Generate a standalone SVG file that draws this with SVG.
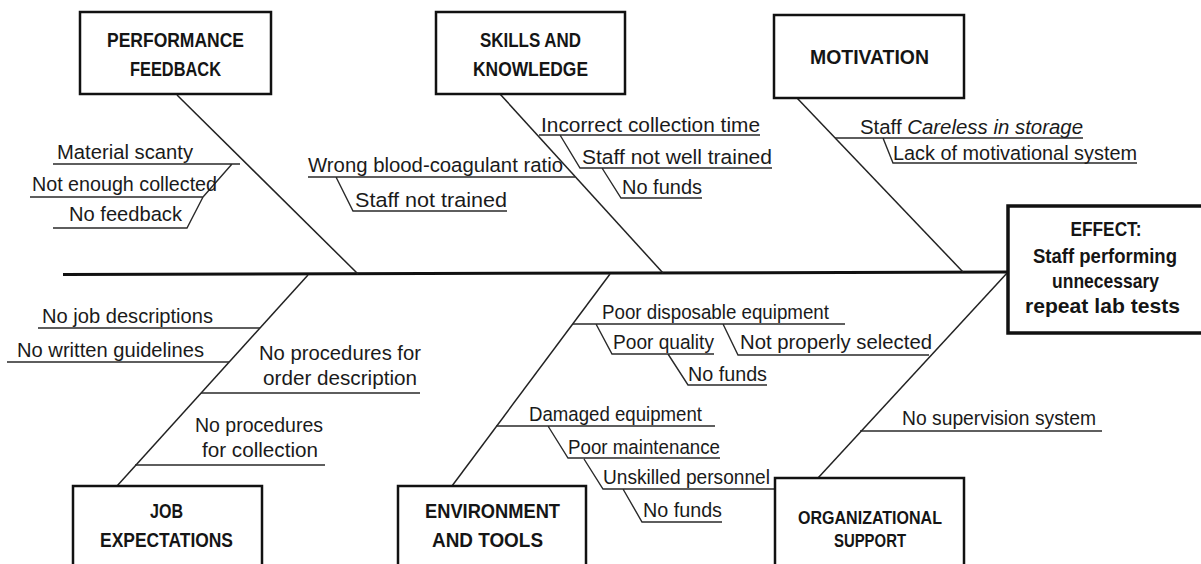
<svg xmlns="http://www.w3.org/2000/svg" width="1201" height="564" viewBox="0 0 1201 564">
<style>
.bg{fill:#ffffff}
.box{fill:#ffffff;stroke:#111111;stroke-width:2.5}
.effbox{fill:#ffffff;stroke:#111111;stroke-width:3.5}
.lbl{font-family:"Liberation Sans",Arial,sans-serif;font-weight:bold;font-size:21px;fill:#151515;text-anchor:middle}
.c{font-family:"Liberation Sans",Arial,sans-serif;font-size:20.5px;fill:#1a1a1a}
.spine{stroke:#111111;stroke-width:3;fill:none}
.bone{stroke:#222222;stroke-width:1.5;fill:none}
.ul{stroke:#2a2a2a;stroke-width:1.4;fill:none}
</style>
<rect class="bg" x="0" y="0" width="1201" height="564"/>

<g id="connectors">
  <line class="spine" x1="63" y1="274.5" x2="1008" y2="272"/>
  <line class="bone" x1="177" y1="95" x2="358" y2="274"/>
  <line class="bone" x1="500" y1="94" x2="663" y2="273"/>
  <line class="bone" x1="797" y1="98" x2="963" y2="272"/>
  <line class="bone" x1="117" y1="486" x2="308" y2="275"/>
  <line class="bone" x1="452" y1="486" x2="610" y2="274"/>
  <line class="bone" x1="818" y1="478" x2="1008" y2="272"/>
  <g id="cause-lines">
    <path class="ul" d="M53,164 H240 M30,197 H203 L232,164 M53,228 H187 L203,197"/>
    <path class="ul" d="M308,177 H575 M336,177 L353,211 H507 M539,135 H760 M560,135 L580,168 H772 M602,168 L621,198 H702"/>
    <path class="ul" d="M835,138 H1083 M883,138 L893,163 H1137"/>
    <path class="ul" d="M38,328 H260 M7,362 H229 M201,393 H420 M135,465 H325"/>
    <path class="ul" d="M573,324 H845 M596,324 L612,354 H714 M723,324 L738,355 H929 M668,354 L688,385 H767 M496,426 H715 M548,426 L568,458 H720 M584,459 L603,489 H775 M623,489 L642,522 H722"/>
    <path class="ul" d="M860,431 H1102"/>
  </g>
</g>

<g id="node-performance-feedback">
  <rect class="box" x="80" y="12" width="191" height="82"/>
  <text class="lbl" x="175.5" y="47" textLength="137" lengthAdjust="spacingAndGlyphs">PERFORMANCE</text>
  <text class="lbl" x="175.5" y="76" textLength="91" lengthAdjust="spacingAndGlyphs">FEEDBACK</text>
</g>
<g id="node-skills-knowledge">
  <rect class="box" x="436" y="12" width="189" height="82"/>
  <text class="lbl" x="530.5" y="47" textLength="101" lengthAdjust="spacingAndGlyphs">SKILLS AND</text>
  <text class="lbl" x="530.5" y="76" textLength="115" lengthAdjust="spacingAndGlyphs">KNOWLEDGE</text>
</g>
<g id="node-motivation">
  <rect class="box" x="774" y="15" width="190" height="83"/>
  <text class="lbl" x="869.5" y="64" textLength="119" lengthAdjust="spacingAndGlyphs">MOTIVATION</text>
</g>
<g id="node-effect">
  <rect class="effbox" x="1008" y="206" width="200" height="127"/>
  <text class="lbl" x="1106" y="236" textLength="71" lengthAdjust="spacingAndGlyphs">EFFECT:</text>
  <text class="lbl" x="1105" y="263" textLength="144" lengthAdjust="spacingAndGlyphs">Staff performing</text>
  <text class="lbl" x="1105.5" y="288" textLength="107" lengthAdjust="spacingAndGlyphs">unnecessary</text>
  <text class="lbl" x="1102.5" y="313" textLength="155" lengthAdjust="spacingAndGlyphs">repeat lab tests</text>
</g>
<g id="node-job-expectations">
  <rect class="box" x="73" y="486" width="189" height="95"/>
  <text class="lbl" x="166.5" y="518" textLength="33" lengthAdjust="spacingAndGlyphs">JOB</text>
  <text class="lbl" x="166.5" y="547" textLength="133" lengthAdjust="spacingAndGlyphs">EXPECTATIONS</text>
</g>
<g id="node-environment-tools">
  <rect class="box" x="398" y="486" width="188" height="95"/>
  <text class="lbl" x="492.5" y="518" textLength="135" lengthAdjust="spacingAndGlyphs">ENVIRONMENT</text>
  <text class="lbl" x="487.5" y="547" textLength="111" lengthAdjust="spacingAndGlyphs">AND TOOLS</text>
</g>
<g id="node-organizational-support">
  <rect class="box" x="775" y="478" width="189" height="100"/>
  <text class="lbl" x="870" y="524" style="font-size:19px" textLength="144" lengthAdjust="spacingAndGlyphs">ORGANIZATIONAL</text>
  <text class="lbl" x="870" y="547" style="font-size:19px" textLength="72" lengthAdjust="spacingAndGlyphs">SUPPORT</text>
</g>

<g id="causes-performance-feedback">
  <text class="c" x="57" y="159" textLength="136" lengthAdjust="spacingAndGlyphs">Material scanty</text>
  <text class="c" x="32" y="191" textLength="185" lengthAdjust="spacingAndGlyphs">Not enough collected</text>
  <text class="c" x="69" y="221" textLength="113" lengthAdjust="spacingAndGlyphs">No feedback</text>
</g>
<g id="causes-skills-knowledge">
  <text class="c" x="308" y="172" textLength="255" lengthAdjust="spacingAndGlyphs">Wrong blood-coagulant ratio</text>
  <text class="c" x="355" y="207" textLength="152" lengthAdjust="spacingAndGlyphs">Staff not trained</text>
  <text class="c" x="541" y="132" textLength="219" lengthAdjust="spacingAndGlyphs">Incorrect collection time</text>
  <text class="c" x="582" y="164" textLength="190" lengthAdjust="spacingAndGlyphs">Staff not well trained</text>
  <text class="c" x="622" y="194" textLength="80" lengthAdjust="spacingAndGlyphs">No funds</text>
</g>
<g id="causes-motivation">
  <text class="c" x="860" y="134" textLength="223" lengthAdjust="spacingAndGlyphs">Staff <tspan font-style="italic">Careless in storage</tspan></text>
  <text class="c" x="893" y="160" textLength="244" lengthAdjust="spacingAndGlyphs">Lack of motivational system</text>
</g>
<g id="causes-job-expectations">
  <text class="c" x="42" y="323" textLength="171" lengthAdjust="spacingAndGlyphs">No job descriptions</text>
  <text class="c" x="17" y="357" textLength="187" lengthAdjust="spacingAndGlyphs">No written guidelines</text>
  <text class="c" x="259" y="360" textLength="162" lengthAdjust="spacingAndGlyphs">No procedures for</text>
  <text class="c" x="263" y="385" textLength="154" lengthAdjust="spacingAndGlyphs">order description</text>
  <text class="c" x="195" y="432" textLength="128" lengthAdjust="spacingAndGlyphs">No procedures</text>
  <text class="c" x="202" y="457" textLength="116" lengthAdjust="spacingAndGlyphs">for collection</text>
</g>
<g id="causes-environment-tools">
  <text class="c" x="602" y="319" textLength="227" lengthAdjust="spacingAndGlyphs">Poor disposable equipment</text>
  <text class="c" x="613" y="349" textLength="101" lengthAdjust="spacingAndGlyphs">Poor quality</text>
  <text class="c" x="740" y="349" textLength="192" lengthAdjust="spacingAndGlyphs">Not properly selected</text>
  <text class="c" x="688" y="381" textLength="79" lengthAdjust="spacingAndGlyphs">No funds</text>
  <text class="c" x="529" y="421" textLength="173" lengthAdjust="spacingAndGlyphs">Damaged equipment</text>
  <text class="c" x="568" y="454" textLength="152" lengthAdjust="spacingAndGlyphs">Poor maintenance</text>
  <text class="c" x="603" y="484" textLength="167" lengthAdjust="spacingAndGlyphs">Unskilled personnel</text>
  <text class="c" x="643" y="517" textLength="79" lengthAdjust="spacingAndGlyphs">No funds</text>
</g>
<g id="causes-organizational-support">
  <text class="c" x="902" y="425" textLength="194" lengthAdjust="spacingAndGlyphs">No supervision system</text>
</g>
</svg>
